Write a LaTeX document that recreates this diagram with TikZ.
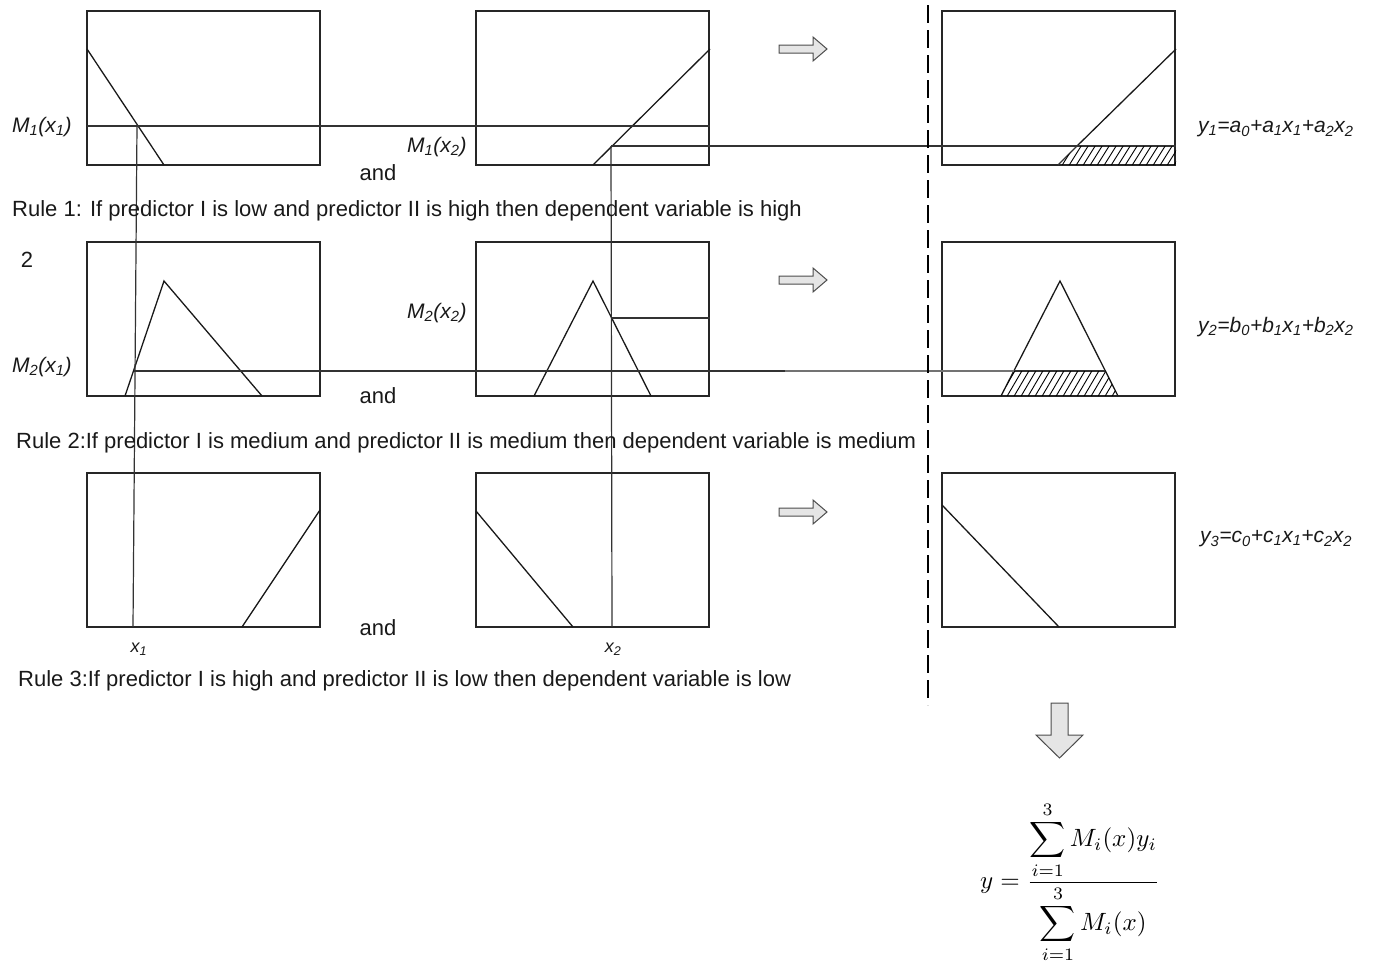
\documentclass[tikz,border=0pt]{standalone}
\usepackage{fontspec}
\setmainfont{Liberation Sans}
\begin{document}
\begin{tikzpicture}[x=1pt,y=-1pt,
  box/.style={draw=black!85, line width=1.1pt},
  curve/.style={draw=black!90, line width=1.3pt},
  guide/.style={draw=black!80, line width=1.2pt},
  hatchline/.style={draw=black, line width=0.9pt},
  txt/.style={font=\fontsize{22}{26}\selectfont, inner sep=0pt, text=black!90},
  lbl/.style={font=\fontsize{21}{25}\selectfont\itshape, inner sep=0pt, text=black!90},
  blockarrow/.style={fill=gray!20, draw=gray!60!black, line width=1pt, line join=miter},
  divider/.style={draw=black, line width=1.2pt, dash pattern=on 18pt off 7pt}]
\useasboundingbox (0,0) rectangle (1374,964);

% boxes
\foreach \bx in {87,476,942}{
  \foreach \by in {11,242,473}{
    \draw[box] (\bx,\by) rectangle ++(233,154);
  }
}

% membership curves, row 1
\draw[curve] (87,49) -- (164,165);
\draw[curve] (593,165) -- (710,49);
\draw[curve] (1077,146) -- (1176,49);
% row 2
\draw[curve] (125,396) -- (164,281) -- (262,396);
\draw[curve] (534,396) -- (593,281) -- (651,396);
\draw[curve] (1001,396) -- (1060,281) -- (1118,396);
% row 3
\draw[curve] (242,627) -- (320,510);
\draw[curve] (476,511) -- (573,627);
\draw[curve] (942,505) -- (1059,627);

% guide lines
\draw[guide] (87,126) -- (710,126);
\draw[guide] (611,146) -- (1176,146);
\draw[guide] (134,371) -- (785,371);
\draw[guide, draw=black!55] (785,371) -- (1014,371);
\draw[guide] (611,318) -- (710,318);
\draw[guide] (137,126) -- (133,627);
\draw[guide] (611,146) -- (612,627);
\draw[guide] (1014,371) -- (1105,371);
\draw[guide] (1058,165) -- (1077,146);

% hatching
\begin{scope}
  \clip (1058,165) -- (1077,146) -- (1176,146) -- (1176,165) -- cycle;
  \foreach \i in {1040,1047,...,1185}{\draw[hatchline] (\i,167) -- (\i+15,143);}
\end{scope}
\begin{scope}
  \clip (1001,396) -- (1014,371) -- (1105,371) -- (1118,396) -- cycle;
  \foreach \i in {985,992,...,1125}{\draw[hatchline] (\i,398) -- (\i+17,369);}
\end{scope}

% dashed divider
\draw[divider] (928,5) -- (928,705);

% block arrows
\foreach \ay in {49,280,512}{
  \draw[blockarrow] (779,\ay-4) -- (813,\ay-4) -- (813,\ay-12) -- (827,\ay) -- (813,\ay+12) -- (813,\ay+4) -- (779,\ay+4) -- cycle;
}
\draw[blockarrow] (1051,703) -- (1068,703) -- (1068,735) -- (1083,735) -- (1059.5,758) -- (1036,735) -- (1051,735) -- cycle;

% labels
\node[lbl, anchor=west] (m11) at (12,127) {M\textsubscript{1}(x\textsubscript{1})};
\node[lbl, anchor=west] (m12) at (407,147) {M\textsubscript{1}(x\textsubscript{2})};
\node[lbl, anchor=west] (m22) at (407,313) {M\textsubscript{2}(x\textsubscript{2})};
\node[lbl, anchor=west] (m21) at (12,367) {M\textsubscript{2}(x\textsubscript{1})};
\node[txt] (two) at (27,260) {2};
\node[lbl, font=\fontsize{18}{22}\selectfont\itshape] (x1) at (139,649) {x\textsubscript{1}};
\node[lbl, font=\fontsize{18}{22}\selectfont\itshape] (x2) at (613,649) {x\textsubscript{2}};

\node[txt] (and1) at (378,173) {and};
\node[txt] (and2) at (378,396) {and};
\node[txt] (and3) at (378,628) {and};

\node[txt, anchor=west] (r1) at (12,211) {Rule 1: If predictor I is low and predictor II is high then dependent variable is high};
\node[txt, anchor=west] (r2) at (16,443) {Rule 2:If predictor I is medium and predictor II is medium then dependent variable is medium};
\node[txt, anchor=west] (r3) at (18,681) {Rule 3:If predictor I is high and predictor II is low then dependent variable is low};

\node[lbl, anchor=west] (y1) at (1198,129) {y\textsubscript{1}=a\textsubscript{0}+a\textsubscript{1}x\textsubscript{1}+a\textsubscript{2}x\textsubscript{2}};
\node[lbl, anchor=west] (y2) at (1198,327) {y\textsubscript{2}=b\textsubscript{0}+b\textsubscript{1}x\textsubscript{1}+b\textsubscript{2}x\textsubscript{2}};
\node[lbl, anchor=west] (y3) at (1200,539) {y\textsubscript{3}=c\textsubscript{0}+c\textsubscript{1}x\textsubscript{1}+c\textsubscript{2}x\textsubscript{2}};

\node[inner sep=0pt, font=\fontsize{10}{12}\selectfont, scale=2.5] (formula) at (1070,882)
  {$\displaystyle y=\frac{\displaystyle\sum_{i=1}^{3} M_i(x)y_i}{\displaystyle\sum_{i=1}^{3} M_i(x)}$};
\end{tikzpicture}
\end{document}
